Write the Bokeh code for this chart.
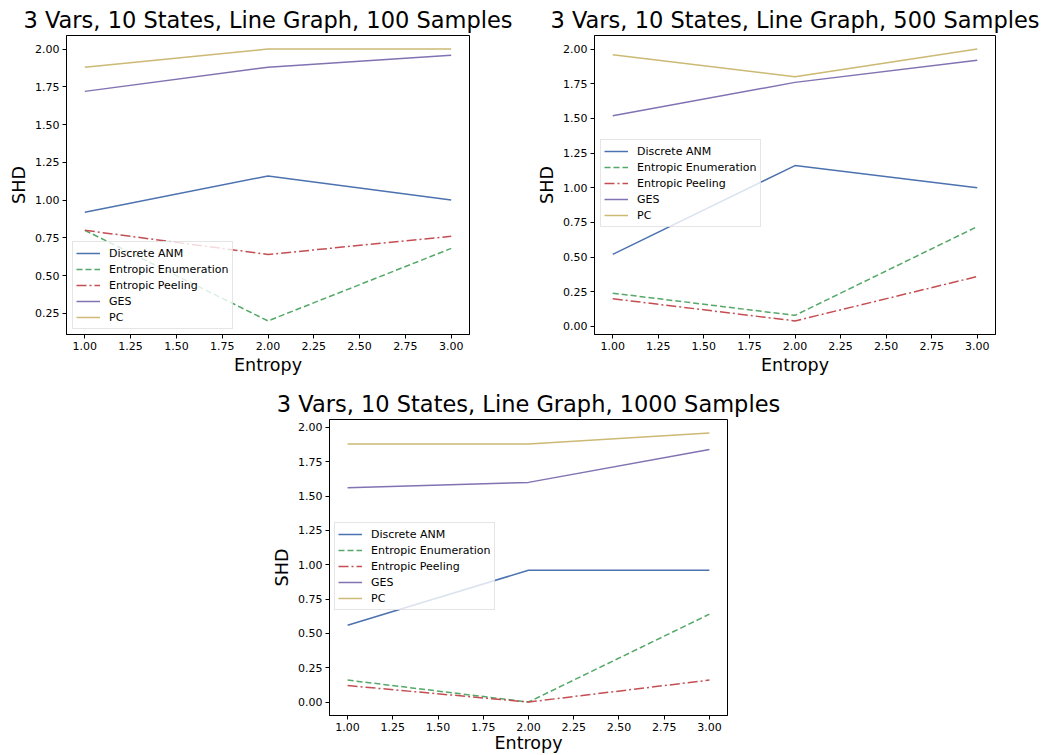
from bokeh.plotting import figure
from bokeh.layouts import column, row
from bokeh.models import Range1d, FixedTicker, PrintfTickFormatter, Spacer
from bokeh.embed import file_html
from bokeh.resources import INLINE

# ---------------- data ----------------
entropy = [1.0, 2.0, 3.0]
series_names = ["Discrete ANM", "Entropic Enumeration", "Entropic Peeling", "GES", "PC"]
x_ticks = [1.0, 1.25, 1.5, 1.75, 2.0, 2.25, 2.5, 2.75, 3.0]
y_ticks = [0.0, 0.25, 0.5, 0.75, 1.0, 1.25, 1.5, 1.75, 2.0]

titles = [
    "3 Vars, 10 States, Line Graph, 100 Samples",
    "3 Vars, 10 States, Line Graph, 500 Samples",
    "3 Vars, 10 States, Line Graph, 1000 Samples",
]

# 100 samples
anm_100 = [0.92, 1.16, 1.00]
enum_100 = [0.80, 0.20, 0.68]
peel_100 = [0.80, 0.64, 0.76]
ges_100 = [1.72, 1.88, 1.96]
pc_100 = [1.88, 2.00, 2.00]

# 500 samples
anm_500 = [0.52, 1.16, 1.00]
enum_500 = [0.24, 0.08, 0.72]
peel_500 = [0.20, 0.04, 0.36]
ges_500 = [1.52, 1.76, 1.92]
pc_500 = [1.96, 1.80, 2.00]

# 1000 samples
anm_1000 = [0.56, 0.96, 0.96]
enum_1000 = [0.16, 0.00, 0.64]
peel_1000 = [0.12, 0.00, 0.16]
ges_1000 = [1.56, 1.60, 1.84]
pc_1000 = [1.88, 1.88, 1.96]

# ---------------- styles ----------------
colors = ["#4C72B0", "#55A868", "#C44E52", "#8172B2", "#CCB974"]
dashes = ["solid", "6 3", "10 3 2 3", "solid", "solid"]
FONT = "DejaVu Sans"


def margin_range(vals, frac=0.05):
    lo, hi = min(vals), max(vals)
    m = (hi - lo) * frac
    return Range1d(lo - m, hi + m)


def make_plot(title, series, width, height, bl, br, bt, bb, legend_loc, xlab_standoff):
    allv = [v for s in series for v in s]
    p = figure(width=width, height=height, output_backend="svg", toolbar_location=None,
               x_range=margin_range(entropy), y_range=margin_range(allv),
               min_border_left=bl, min_border_right=br, min_border_top=bt, min_border_bottom=bb,
               background_fill_color="white", border_fill_color="white")
    for name, vals, c, d in zip(series_names, series, colors, dashes):
        p.line(entropy, vals, line_color=c, line_width=1.5, line_dash=d, legend_label=name)

    p.title.text = title
    p.title.text_font = FONT
    p.title.text_font_size = "22.5px"
    p.title.text_font_style = "normal"
    p.title.align = "center"
    p.title.text_color = "black"
    p.title.standoff = 6

    p.outline_line_color = "black"
    p.outline_line_width = 1
    p.outline_line_alpha = 1
    p.xgrid.visible = False
    p.ygrid.visible = False

    p.xaxis.ticker = FixedTicker(ticks=x_ticks)
    p.yaxis.ticker = FixedTicker(ticks=y_ticks)
    for ax in (p.xaxis[0], p.yaxis[0]):
        ax.formatter = PrintfTickFormatter(format="%.2f")
        ax.major_label_text_font = FONT
        ax.major_label_text_font_size = "11px"
        ax.major_label_text_color = "black"
        ax.axis_label_text_font = FONT
        ax.axis_label_text_font_size = "17.5px"
        ax.axis_label_text_font_style = "normal"
        ax.axis_label_text_color = "black"
        ax.major_tick_out = 4
        ax.major_tick_in = 0
        ax.minor_tick_out = 0
        ax.minor_tick_in = 0
        ax.axis_line_color = "black"
        ax.major_tick_line_color = "black"
        ax.major_label_standoff = 3
    p.xaxis.axis_label = "Entropy"
    p.yaxis.axis_label = "SHD"
    p.xaxis.axis_label_standoff = xlab_standoff
    p.yaxis.axis_label_standoff = 3

    lg = p.legend[0]
    lg.location = legend_loc
    lg.margin = 0
    lg.padding = 3
    lg.spacing = 0
    lg.glyph_width = 24
    lg.glyph_height = 16
    lg.label_height = 16
    lg.label_standoff = 9
    lg.label_text_font = FONT
    lg.label_text_font_size = "11px"
    lg.label_text_color = "black"
    lg.background_fill_color = "white"
    lg.background_fill_alpha = 0.8
    lg.border_line_color = "#cccccc"
    lg.border_line_width = 1
    return p


p1 = make_plot(titles[0], [anm_100, enum_100, peel_100, ges_100, pc_100],
               520, 377, 66, 51, 35, 42, (6, 5), 2)
p2 = make_plot(titles[1], [anm_500, enum_500, peel_500, ges_500, pc_500],
               525, 377, 74, 50, 35, 42, (6, 107), 2)
p3 = make_plot(titles[2], [anm_1000, enum_1000, peel_1000, ges_1000, pc_1000],
               520, 378, 66, 56, 42, 40, (5, 105), -1)

layout = column(row(p1, p2), row(Spacer(width=263, height=378), p3))

open("out.html", "w").write(file_html(layout, INLINE))
